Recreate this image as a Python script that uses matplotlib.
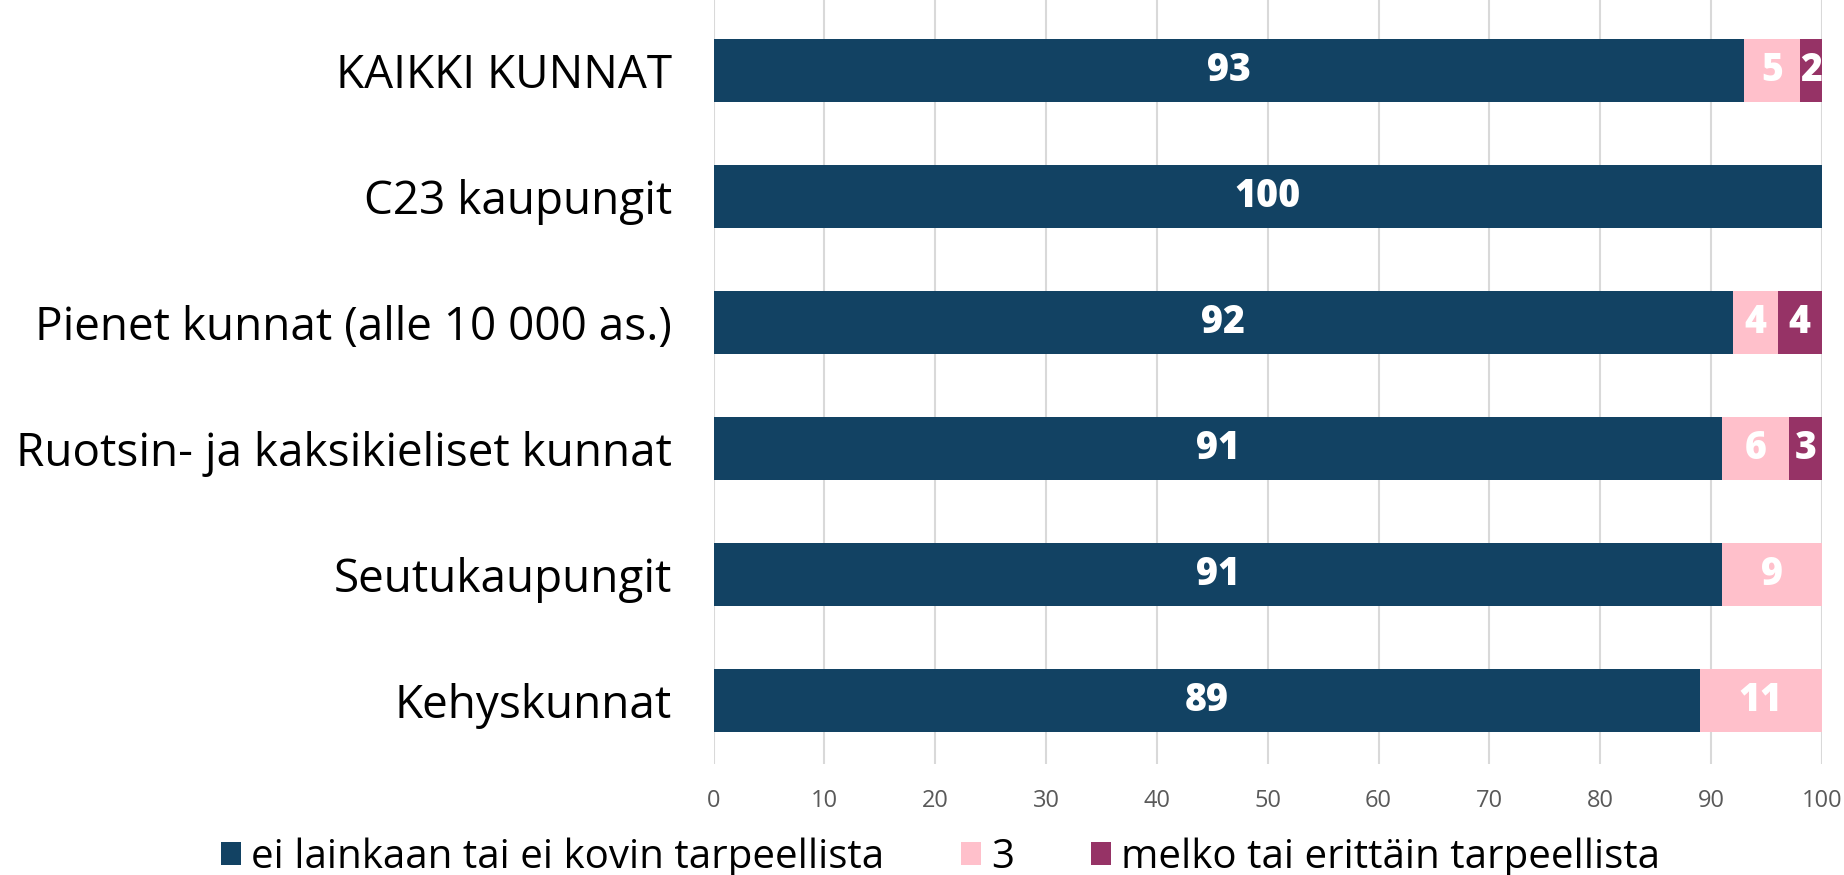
'''
Stacked horizontal bar chart of municipality groups.
'''
import matplotlib.pyplot as plt
import numpy as np

plt.rcParams['font.family'] = ['Open Sans', 'DejaVu Sans']

# data
groups = ['KAIKKI KUNNAT', 'C23 kaupungit', 'Pienet kunnat (alle 10 000 as.)',
          'Ruotsin- ja kaksikieliset kunnat', 'Seutukaupungit', 'Kehyskunnat']
not_needed = [93, 100, 92, 91, 91, 89]
neutral = [5, 0, 4, 6, 9, 11]
needed = [2, 0, 4, 3, 0, 0]
series_names = ['ei lainkaan tai ei kovin tarpeellista', '3',
                'melko tai erittäin tarpeellista']
colors = ['#124263', '#FFC0CB', '#963366']

def main():
    fig = plt.figure(figsize=(18.44, 8.75), dpi=100)
    ax = fig.add_axes([0.387, 0.127, 0.601, 0.873])

    y = np.arange(len(groups))
    left = np.zeros(len(groups))
    for vals, name, col in zip([not_needed, neutral, needed], series_names, colors):
        vals = np.array(vals)
        bars = ax.barh(y, vals, left=left, height=0.5, color=col, label=name, zorder=3)
        # value labels
        for b, v in zip(bars, vals):
            if v > 0:
                ax.text(b.get_x() + b.get_width() / 2, b.get_y() + b.get_height() / 2,
                        str(v), ha='center', va='center', color='white',
                        fontsize=27, fontweight='heavy', zorder=4)
        left += vals

    ax.set_ylim(len(groups) - 0.5, -0.56)
    ax.set_xlim(0, 100)
    ax.set_xticks(range(0, 101, 10))
    ax.set_yticks(y)
    ax.set_yticklabels(groups, fontsize=33)
    ax.tick_params(axis='y', length=0, pad=30)
    ax.tick_params(axis='x', length=0, pad=18, labelsize=17, labelcolor='#595959')
    ax.grid(axis='x', color='#d9d9d9', linewidth=1.5, zorder=0)
    for s in ax.spines.values():
        s.set_visible(False)

    fig.legend(loc='center', bbox_to_anchor=(0.51, 0.02), ncol=3, frameon=False,
               fontsize=29, handlelength=0.5, handleheight=0.5, handletextpad=0.25,
               columnspacing=1.9)

    plt.savefig('out.png', dpi=100)

if __name__ == '__main__':
    main()
